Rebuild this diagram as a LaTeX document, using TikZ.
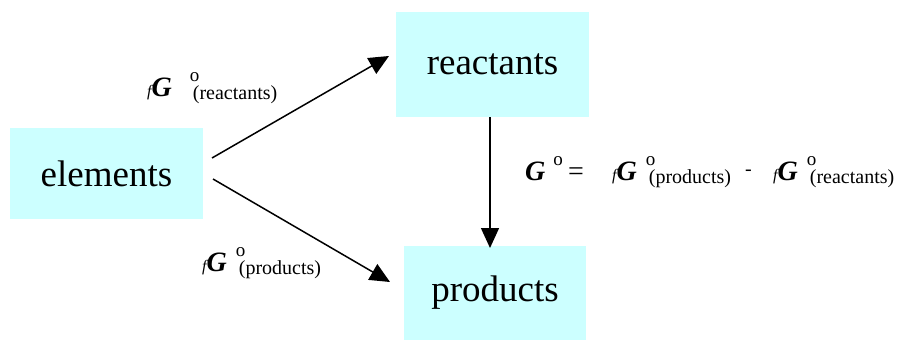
\documentclass[tikz,border=0pt]{standalone}
\usepackage{fontspec}
\setmainfont{Liberation Serif}
\newcommand\tms{\rmfamily}
\usetikzlibrary{arrows.meta,calc}
\definecolor{boxcyan}{RGB}{204,255,255}
\newcommand\bigG{{\tms\fontsize{28}{28}\selectfont\bfseries\itshape G}}
\newcommand\degO{\raisebox{15pt}{\tms\fontsize{19}{19}\selectfont o}}
\newcommand\dgterm[2][9pt]{{\tms\fontsize{16}{16}\selectfont\itshape f}\bigG\kern#1\rlap{\degO}\kern3pt\raisebox{-3pt}{\tms\fontsize{20}{20}\selectfont #2}}
\begin{document}
\begin{tikzpicture}[x=1pt,y=-1pt,
  box/.style={fill=boxcyan, inner sep=0pt, font=\tms\fontsize{37}{37}\selectfont},
  conn/.style={line width=1.5pt, -{Triangle[length=20pt,width=18pt]}},
  lbl/.style={inner sep=0pt, anchor=base west, font=\tms}]
\useasboundingbox (0,0) rectangle (901,340);
\node[box, minimum width=193pt, minimum height=91pt] (elements) at (106.5,173.5) {elements};
\node[box, minimum width=193pt, minimum height=105pt] (reactants) at (492.5,64.5) {reactants};
\node[box, minimum width=182pt, minimum height=94pt] (products) at (495,293) {products};
\coordinate (s1) at (212,158);
\coordinate (e1) at (389,56);
\coordinate (s2) at (213,179);
\coordinate (e2) at (390,282);
\coordinate (s3) at (490,117);
\coordinate (e3) at (490,248);
\draw[conn] (s1) -- (e1);
\draw[conn] (s2) -- (e2);
\draw[conn] (s3) -- (e3);
\node[lbl] (lr) at (147,96) {\dgterm[18pt]{(reactants)}};
\node[lbl] (lp) at (202,271) {\dgterm{(products)}};
\node[lbl] (eqG) at (525,180) {\bigG\kern8pt\degO};
\node[lbl] (eqeq) at (568,180) {\fontsize{28}{28}\selectfont =};
\node[lbl] (eqt1) at (612,180) {\dgterm{(products)}};
\node[lbl] (eqmin) at (745,180) {\raisebox{5pt}{\fontsize{20}{20}\selectfont -}};
\node[lbl] (eqt2) at (773,180) {\dgterm{(reactants)}};
\end{tikzpicture}
\end{document}
